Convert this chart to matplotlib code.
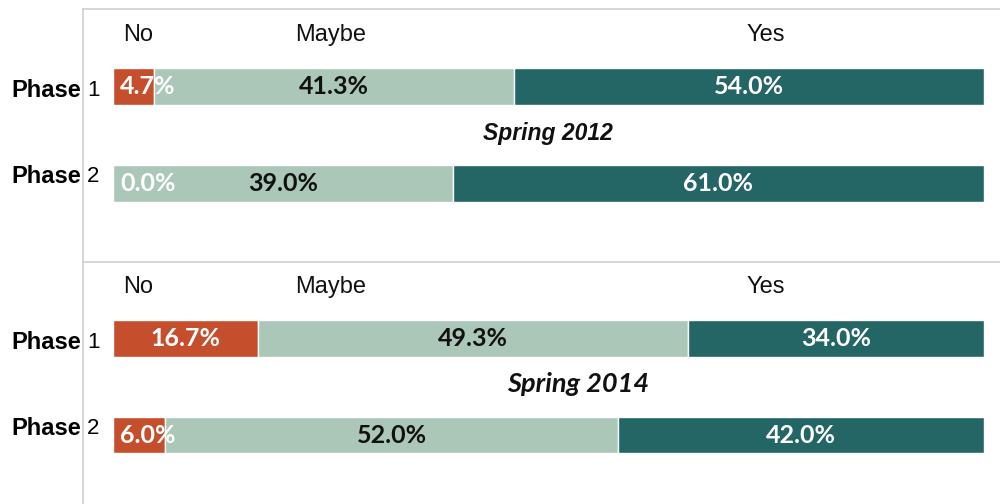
import matplotlib
matplotlib.use("Agg")
import matplotlib.pyplot as plt

# survey answers per phase, in percent
answers = ["No", "Maybe", "Yes"]
phase_nums = ["1", "2"]
terms = ["Spring 2012", "Spring 2014"]
no_vals = [[4.7, 0.0], [16.7, 6.0]]
maybe_vals = [[41.3, 39.0], [49.3, 52.0]]
yes_vals = [[54.0, 61.0], [34.0, 42.0]]

colors = ["#C54E2C", "#ABC7B8", "#236665"]
label_colors = ["white", "#111111", "white"]
header_x = [2.9, 25.0, 75.0]
term_pos = [(49.9, 0.48, "Liberation Sans", 16.5), (53.4, 0.47, "Lato", 19.5)]
phase_dy = [0.04, -0.07]

fig = plt.figure(figsize=(10, 5.04), dpi=100)
ax_top = fig.add_axes([0.083, 0.480, 0.917, 0.502])
ax_bot = fig.add_axes([0.083, 0.0, 0.917, 0.480])
ylims = [(1.809, -0.799), (1.715, -0.793)]

for k, ax in enumerate([ax_top, ax_bot]):
    segs = [no_vals[k], maybe_vals[k], yes_vals[k]]
    left = [0.0, 0.0]
    for j, vals in enumerate(segs):
        ax.barh(range(2), vals, left=left, height=0.38, color=colors[j],
                edgecolor="white", linewidth=1)
        for i, v in enumerate(vals):
            if j == 0 and v < 10:
                x, ha = left[i] + 0.8, "left"
            else:
                x, ha = left[i] + v / 2, "center"
            ax.text(x, i, "%.1f%%" % v, ha=ha, va="center", color=label_colors[j],
                    fontsize=18, fontweight="bold", family="Lato")
        left = [l + v for l, v in zip(left, vals)]

    for hx, name in zip(header_x, answers):
        ax.text(hx, -0.53, name, ha="center", va="center", fontsize=17,
                family="Liberation Sans", color="#111111")

    for i, num in enumerate(phase_nums):
        ax.text(-3.67, i + phase_dy[i], "Phase", ha="right", va="center",
                fontsize=17, fontweight="bold", family="Liberation Sans")
        ax.text(-2.99, i + phase_dy[i], num, ha="left", va="center",
                fontsize=16, family="Liberation Sans")

    tx, ty, tf, ts = term_pos[k]
    ax.text(tx, ty, terms[k], ha="center", va="center", fontsize=ts,
            fontweight="bold", style="italic", family=tf, color="#111111")

    ax.set_xlim(-3.44, 101.84)
    ax.set_ylim(*ylims[k])
    ax.set_xticks([])
    ax.set_yticks([])
    for s in ["right", "bottom"]:
        ax.spines[s].set_visible(False)
    for s in ["top", "left"]:
        ax.spines[s].set_color("#CFCFCF")
        ax.spines[s].set_linewidth(1.2)

fig.savefig("out.png", dpi=100)
